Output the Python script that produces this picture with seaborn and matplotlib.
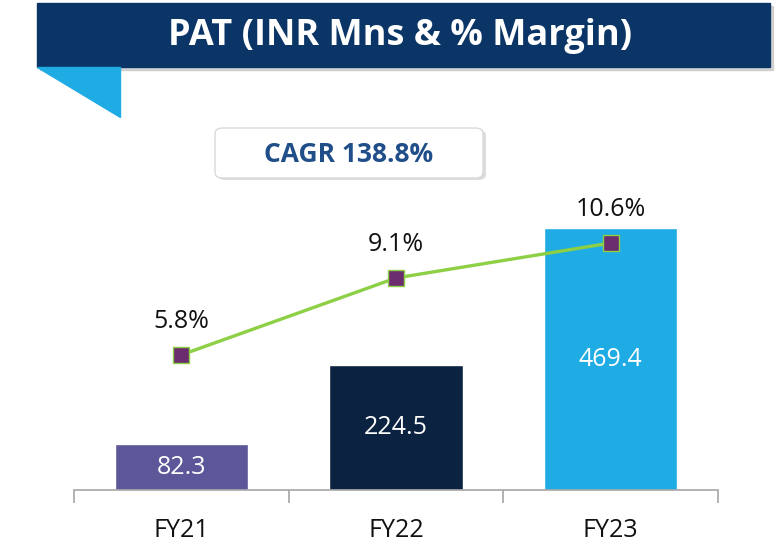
import matplotlib
matplotlib.use("Agg")
import pandas as pd
import seaborn as sns
import matplotlib.pyplot as plt
from matplotlib.patches import Rectangle, Polygon, FancyBboxPatch

# -------- Data -------- #
years = ["FY21", "FY22", "FY23"]
pat = [82.3, 224.5, 469.4]
margin = [5.8, 9.1, 10.6]
bar_colors = ["#5B5799", "#0B2341", "#1FABE3"]

df = pd.DataFrame({"year": years, "pat": pat, "margin": margin})

sns.set_theme(style="white")
plt.rcParams["font.family"] = ["Open Sans", "DejaVu Sans"]

fig = plt.figure(figsize=(7.76, 5.54), dpi=100)
W, H = 776, 554

# main axes: baseline at y=490px, x from 74 to 718px
ax = fig.add_axes([74 / W, (H - 490) / H, 644 / W, 360 / H])
sns.barplot(data=df, x="year", y="pat", hue="year", palette=bar_colors,
            width=0.62, saturation=1, legend=False, ax=ax)
ax.set_xlim(-0.5, 2.5)
ax.set_ylim(0, 360 / 0.558)
ax.set_xlabel("")
ax.set_ylabel("")
ax.set_yticks([])
for s in ["top", "right", "left"]:
    ax.spines[s].set_visible(False)
ax.spines["bottom"].set_color("#A6A6A6")
ax.spines["bottom"].set_linewidth(1.2)
ax.set_xticks([0, 1, 2])
ax.set_xticklabels(years, fontsize=18, color="#111111")
ax.tick_params(axis="x", which="major", length=0, pad=20)
ax.set_xticks([-0.5, 0.5, 1.5, 2.5], minor=True)
ax.tick_params(axis="x", which="minor", length=9, color="#A6A6A6", width=1.2, bottom=True)

for i, v in enumerate(pat):
    ax.text(i, v / 2, f"{v:.1f}", ha="center", va="center", fontsize=18, color="white")

# margin line on secondary axis
ax2 = ax.twinx()
ax2.set_ylim(0, 360 / 23.3)
sns.lineplot(x=[0, 1, 2], y=margin, ax=ax2, color="#8DCF45", linewidth=2.4,
             marker="s", markersize=11, markerfacecolor="#6B2D6E",
             markeredgecolor="#8DCF45", markeredgewidth=1)
ax2.set_yticks([])
ax2.set_ylabel("")
for s in ax2.spines.values():
    s.set_visible(False)
for i, m in enumerate(margin):
    ax2.annotate(f"{m:.1f}%", (i, m), xytext=(0, 24), textcoords="offset points",
                 ha="center", va="center", fontsize=18, color="#111111")

# -------- Title banner -------- #
fig.patches.append(Rectangle((40 / W, (H - 70) / H), 733 / W, 64 / H,
                             transform=fig.transFigure, color="#BBBBBB", alpha=0.6))
fig.patches.append(Rectangle((37 / W, (H - 67) / H), 733 / W, 64 / H,
                             transform=fig.transFigure, color="#0B3566"))
fig.patches.append(Polygon([(37 / W, (H - 67) / H), (120 / W, (H - 67) / H),
                            (120 / W, (H - 117) / H)],
                           closed=True, transform=fig.transFigure, color="#1FABE3"))
fig.text(400 / W, (H - 36) / H, "PAT (INR Mns & % Margin)", ha="center", va="center",
         fontsize=26, fontweight="bold", color="white")

# -------- CAGR box -------- #
fig.patches.append(FancyBboxPatch((218 / W, (H - 180) / H), 268 / W, 50 / H,
                                  boxstyle="round,pad=0,rounding_size=0.01",
                                  transform=fig.transFigure, facecolor="#DDDDDD",
                                  edgecolor="none"))
fig.patches.append(FancyBboxPatch((215 / W, (H - 178) / H), 268 / W, 50 / H,
                                  boxstyle="round,pad=0,rounding_size=0.01",
                                  transform=fig.transFigure, facecolor="white",
                                  edgecolor="#D9D9D9", linewidth=1))
fig.text(349 / W, (H - 154) / H, "CAGR 138.8%", ha="center", va="center",
         fontsize=19, fontweight="bold", color="#1F4E89")

fig.savefig("out.png", dpi=100, facecolor="white")
